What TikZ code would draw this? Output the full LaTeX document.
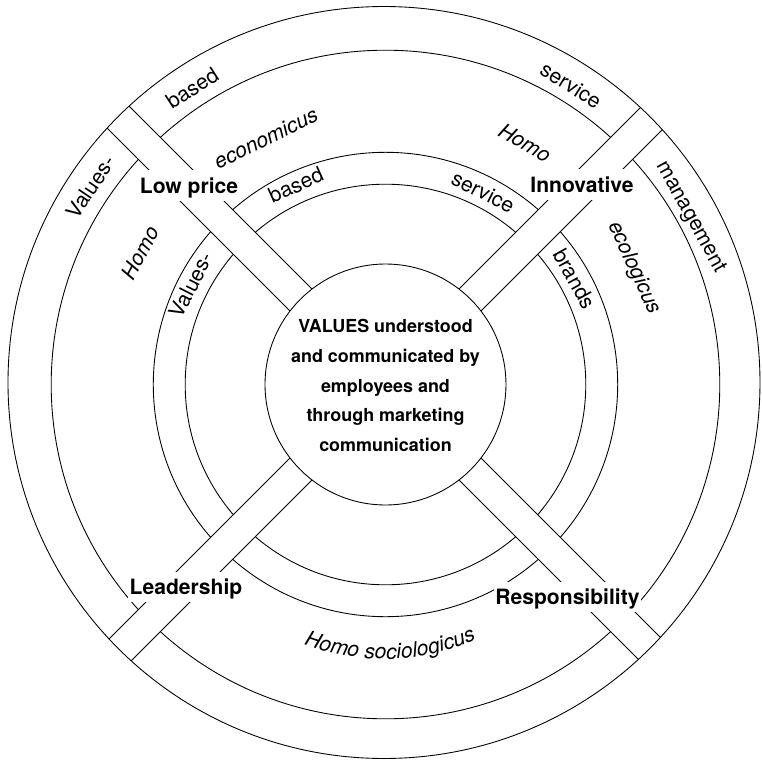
\documentclass[tikz,border=0pt]{standalone}
\usepackage{fontspec}
\setmainfont{TeX Gyre Heros}
\usepackage{tikz}
\usetikzlibrary{decorations.text}

\begin{document}
\begin{tikzpicture}[x=0.02cm, y=0.02cm, line width=0.5pt,
    ringword/.style={font=\fontsize{12}{14}\selectfont, inner sep=0pt},
    homoword/.style={font=\fontsize{12}{14}\selectfont\itshape, inner sep=0pt},
    bandlabel/.style={font=\fontsize{12}{14}\selectfont\bfseries, fill=white,
      inner xsep=1pt, inner ysep=2pt, text height=11pt, text depth=2.5pt, anchor=base}]
    \useasboundingbox (-385.5,-377.5) rectangle (376.5,384.5);

    % rings
    \draw (0,0) circle[radius=334.3];
    \draw (0,0) circle[radius=232.2];
    \draw (0,0) circle[radius=200.3];

    % the four bands
    \foreach \a in {45,135,225,315}
        \fill[white, rotate=\a] (0,-15.6) rectangle (380,15.6);
    \begin{scope}
        \clip (-1.5,2) circle[radius=376];
        \foreach \a in {45,135,225,315}
            \draw[rotate=\a] (0,-15.6) -- (400,-15.6) (0,15.6) -- (400,15.6);
    \end{scope}
    \draw (-1.5,2) circle[radius=376];

    % centre
    \node at (0,0) [circle, draw, fill=white, minimum size=4.82cm] (hub) {};
    \node at (0,-1) [align=center, font=\fontsize{10.2}{17}\selectfont\bfseries] (hubtext)
        {VALUES understood\\and communicated by\\employees and\\through marketing\\communication};

    % outer ring
    \node at (146.2:355) [ringword, rotate=56] (valout) {Values-};
    \node at (123.1:354) [ringword, rotate=33] (basedout) {based};
    \node at (58.2:352) [ringword, rotate=-32] (servout) {service};
    \node at (28.7:348) [ringword, rotate=-61] (mgmt) {management};

    % homo ring
    \node at (151.8:278.5) [homoword, rotate=62] (homow) {Homo};
    \node at (115.9:274) [homoword, rotate=26] (econ) {economicus};
    \node at (60:279) [homoword, rotate=-30] (homone) {Homo};
    \node at (25.1:274.5) [homoword, rotate=-65] (ecol) {ecologicus};
    \coordinate (socio) at (-1,-44.5);
    \path[decorate, decoration={text along path, text align=center,
        text={|\fontsize{12}{14}\selectfont\itshape|Homo sociologicus}}]
        ([shift={(-125:230)}]socio) arc[start angle=-125, end angle=-52, radius=230];

    % inner ring
    \node at (152.9:218.5) [ringword, rotate=63] (valin) {Values-};
    \node at (114.2:218.7) [ringword, rotate=24] (basedin) {based};
    \node at (63.1:215.8) [ringword, rotate=-27] (servin) {service};
    \node at (29.1:216.9) [ringword, rotate=-61] (brands) {brands};

    % band labels
    \node at (-196.5,191.5) [bandlabel] (lowprice) {Low price};
    \node at (196.5,192.5) [bandlabel] (innov) {Innovative};
    \node at (-199.5,-210) [bandlabel] (lead) {Leadership};
    \node at (182,-220) [bandlabel] (resp) {Responsibility};
\end{tikzpicture}
\end{document}
